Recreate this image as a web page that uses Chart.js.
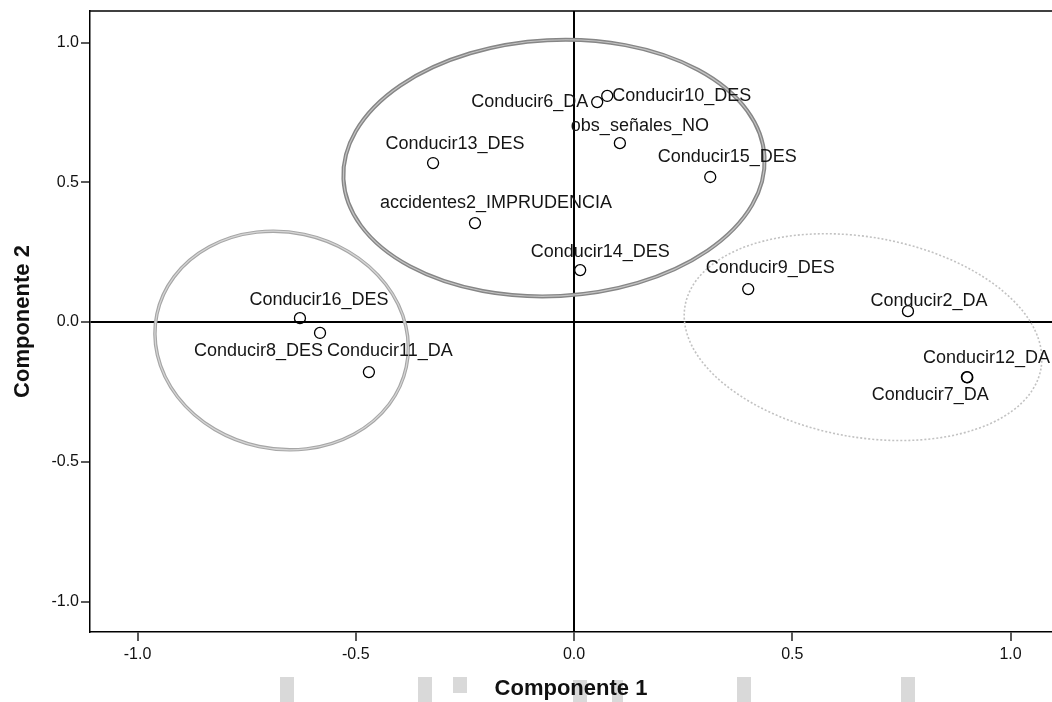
<!DOCTYPE html>
<html>
<head>
<meta charset="utf-8">
<script src="https://cdn.jsdelivr.net/npm/chart.js@4.4.1/dist/chart.umd.min.js"></script>
<style>
  html, body { margin: 0; padding: 0; background: #fff; }
  canvas { display: block; }
</style>
</head>
<body>
<canvas id="chart" width="1052" height="702"></canvas>
<script>
// component loadings
const pointNames = [
  'Conducir6_DA', 'Conducir10_DES', 'obs_señales_NO', 'Conducir13_DES',
  'Conducir15_DES', 'accidentes2_IMPRUDENCIA', 'Conducir14_DES', 'Conducir9_DES',
  'Conducir2_DA', 'Conducir12_DA', 'Conducir7_DA', 'Conducir16_DES',
  'Conducir8_DES', 'Conducir11_DA'
];
const comp1 = [0.053, 0.076, 0.105, -0.323, 0.312, -0.227, 0.014, 0.399, 0.765, 0.900, 0.901, -0.628, -0.582, -0.470];
const comp2 = [0.787, 0.809, 0.640, 0.569, 0.519, 0.354, 0.186, 0.118, 0.039, -0.197, -0.198, 0.014, -0.039, -0.179];
const tickValues = [-1.0, -0.5, 0.0, 0.5, 1.0];

// label placement: [align, dx, dy] in pixels from the point
const labelPlacement = {
  'Conducir6_DA': ['right', -9, 0],
  'Conducir10_DES': ['left', 5, 0],
  'obs_señales_NO': ['center', 20, -17],
  'Conducir13_DES': ['center', 22, -19],
  'Conducir15_DES': ['center', 17, -20],
  'accidentes2_IMPRUDENCIA': ['center', 21, -20],
  'Conducir14_DES': ['center', 20, -18],
  'Conducir9_DES': ['center', 22, -21],
  'Conducir2_DA': ['center', 21, -10],
  'Conducir12_DA': ['left', -44, -19],
  'Conducir7_DA': ['center', -37, 18],
  'Conducir16_DES': ['center', 19, -18],
  'Conducir8_DES': ['right', 3, 18],
  'Conducir11_DA': ['center', 21, -21]
};

// group ellipses in data units (centre, radii, rotation in degrees)
const groups = [
  { cx: -0.046, cy: 0.551, rx: 0.483, ry: 0.458, rot: -3, style: 'dark' },
  { cx: -0.670, cy: -0.066, rx: 0.292, ry: 0.388, rot: 12, style: 'mid' },
  { cx: 0.662, cy: -0.054, rx: 0.414, ry: 0.358, rot: 10, style: 'light' }
];

const points = pointNames.map((n, i) => ({ x: comp1[i], y: comp2[i], name: n }));

// scan smudges along the bottom edge
const smudges = [[280, 677, 14, 25], [418, 677, 14, 25], [453, 677, 14, 16], [573, 680, 14, 22],
                 [612, 680, 11, 22], [737, 677, 14, 25], [901, 677, 14, 25]];

const decorPlugin = {
  id: 'decor',
  beforeDraw(chart) {
    const ctx = chart.ctx;
    ctx.save();
    ctx.fillStyle = '#d9d9d9';
    smudges.forEach(r => ctx.fillRect(r[0], r[1], r[2], r[3]));
    ctx.restore();
  },
  beforeDatasetsDraw(chart) {
    const ctx = chart.ctx;
    const xs = chart.scales.x, ys = chart.scales.y;
    const a = chart.chartArea;
    ctx.save();
    ctx.beginPath();
    ctx.rect(a.left, a.top, a.right - a.left, a.bottom - a.top);
    ctx.clip();
    groups.forEach(g => {
      const px = xs.getPixelForValue(g.cx), py = ys.getPixelForValue(g.cy);
      const rx = Math.abs(xs.getPixelForValue(g.cx + g.rx) - px);
      const ry = Math.abs(ys.getPixelForValue(g.cy + g.ry) - py);
      const rot = g.rot * Math.PI / 180;
      const path = () => { ctx.beginPath(); ctx.ellipse(px, py, rx, ry, rot, 0, Math.PI * 2); };
      if (g.style === 'dark') {
        path(); ctx.strokeStyle = '#868686'; ctx.lineWidth = 4; ctx.setLineDash([]); ctx.stroke();
        path(); ctx.strokeStyle = '#c4c4c4'; ctx.lineWidth = 1.2; ctx.stroke();
      } else if (g.style === 'mid') {
        path(); ctx.strokeStyle = '#a6a6a6'; ctx.lineWidth = 3.5; ctx.setLineDash([]); ctx.stroke();
        path(); ctx.strokeStyle = '#d6d6d6'; ctx.lineWidth = 1.2; ctx.stroke();
      } else {
        path(); ctx.strokeStyle = '#c2c2c2'; ctx.lineWidth = 1.6; ctx.setLineDash([2, 2]); ctx.stroke();
      }
    });
    ctx.restore();
    // top frame line
    ctx.save();
    ctx.strokeStyle = '#000';
    ctx.lineWidth = 1.5;
    ctx.beginPath();
    ctx.moveTo(a.left, a.top);
    ctx.lineTo(a.right, a.top);
    ctx.stroke();
    ctx.restore();
  },
  afterDatasetsDraw(chart) {
    const ctx = chart.ctx;
    const meta = chart.getDatasetMeta(0);
    ctx.save();
    ctx.font = '18px "Liberation Sans", Arial, sans-serif';
    ctx.fillStyle = '#151515';
    ctx.textBaseline = 'middle';
    meta.data.forEach((el, i) => {
      const p = labelPlacement[pointNames[i]];
      ctx.textAlign = p[0];
      ctx.fillText(pointNames[i], el.x + p[1], el.y + p[2]);
    });
    ctx.restore();
  }
};

const zeroGrid = {
  color: c => (c.tick && c.tick.value === 0) ? '#000' : 'rgba(0,0,0,0)',
  lineWidth: 2,
  tickColor: '#000',
  tickWidth: 1.3,
  tickLength: 9
};

new Chart(document.getElementById('chart'), {
  type: 'scatter',
  data: {
    datasets: [{
      data: points,
      pointRadius: 5.5,
      pointHoverRadius: 5.5,
      borderWidth: 1.3,
      borderColor: '#000',
      backgroundColor: 'rgba(0,0,0,0)'
    }]
  },
  options: {
    responsive: false,
    animation: false,
    layout: { autoPadding: false, padding: { top: 11, right: 0, left: 0, bottom: 0 } },
    plugins: { legend: { display: false }, tooltip: { enabled: false } },
    scales: {
      x: {
        type: 'linear',
        min: -1.109,
        max: 1.095,
        afterBuildTicks: s => { s.ticks = tickValues.map(v => ({ value: v })); },
        afterFit: s => { s.height = 70; s.paddingLeft = 0; s.paddingRight = 0; },
        ticks: {
          callback: v => v.toFixed(1),
          font: { family: '"Liberation Sans", Arial, sans-serif', size: 16 },
          color: '#111',
          padding: 4,
          maxRotation: 0
        },
        grid: zeroGrid,
        border: { color: '#000', width: 1.5 },
        title: {
          display: true,
          text: 'Componente 1',
          font: { family: '"Liberation Sans", Arial, sans-serif', size: 22, weight: 'bold' },
          color: '#111',
          padding: { top: 0, bottom: 0 }
        }
      },
      y: {
        type: 'linear',
        min: -1.109,
        max: 1.113,
        afterBuildTicks: s => { s.ticks = tickValues.map(v => ({ value: v })); },
        afterFit: s => { s.width = 90; s.paddingTop = 0; s.paddingBottom = 0; },
        ticks: {
          callback: v => v.toFixed(1),
          font: { family: '"Liberation Sans", Arial, sans-serif', size: 16 },
          color: '#111',
          padding: 2
        },
        grid: zeroGrid,
        border: { color: '#000', width: 1.5 },
        title: {
          display: true,
          text: 'Componente 2',
          font: { family: '"Liberation Sans", Arial, sans-serif', size: 22, weight: 'bold' },
          color: '#111',
          padding: { top: 10, bottom: 0 }
        }
      }
    }
  },
  plugins: [decorPlugin]
});
</script>
</body>
</html>
